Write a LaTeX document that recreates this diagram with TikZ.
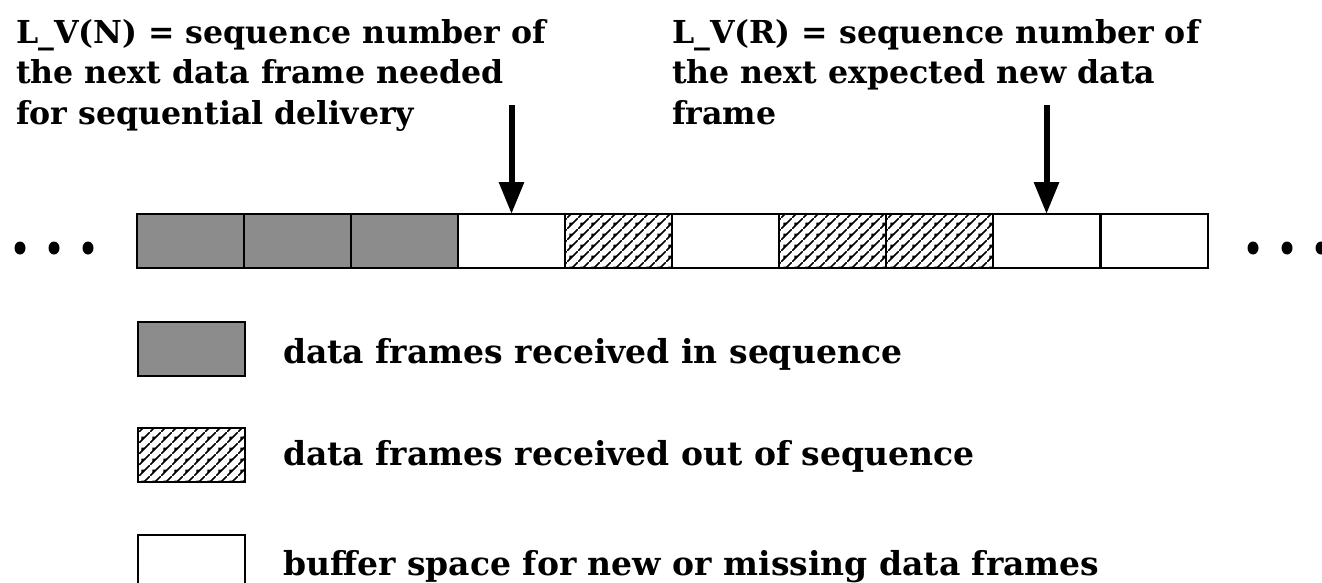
\documentclass[tikz,border=0pt]{standalone}
\usepackage{fontspec}
\setmainfont{DejaVu Serif}
\usetikzlibrary{arrows.meta,patterns,shapes.geometric}

% diagonal hatching with small wedges along each stroke
\pgfdeclarepatternformonly{hatchwedge}{\pgfqpoint{0pt}{0pt}}{\pgfqpoint{10.7pt}{10.7pt}}{\pgfqpoint{10.7pt}{10.7pt}}{%
  \pgfsetlinewidth{1.6pt}
  \pgfpathmoveto{\pgfqpoint{-1pt}{-1pt}}
  \pgfpathlineto{\pgfqpoint{11.7pt}{11.7pt}}
  \pgfusepath{stroke}
  \pgfpathmoveto{\pgfqpoint{2.5pt}{2.5pt}}
  \pgfpathlineto{\pgfqpoint{6.5pt}{6.5pt}}
  \pgfpathlineto{\pgfqpoint{2.5pt}{6.5pt}}
  \pgfpathclose
  \pgfusepath{fill}
}

\definecolor{framegray}{RGB}{140,140,140}

\tikzset{
  cell/.style={draw=black, line width=1.5pt, minimum width=107pt, minimum height=54pt,
    inner sep=0pt, outer sep=0pt},
  insequence/.style={cell, fill=framegray},
  outsequence/.style={cell, pattern=hatchwedge},
  free/.style={cell, fill=white},
  ptr/.style={line width=6pt, -{Triangle[width=24pt,length=32pt]}},
  dot/.style={fill=black, draw=none, ellipse, minimum width=11pt, minimum height=13pt, inner sep=0pt},
  lbl/.style={font=\fontsize{31.6}{40.5}\selectfont\bfseries, align=left, inner sep=0pt},
  keytext/.style={font=\fontsize{33}{40}\selectfont\bfseries, inner sep=0pt, anchor=base west},
}

\begin{document}
\begin{tikzpicture}[x=1pt, y=-1pt]
  \useasboundingbox (0,0) rectangle (1322,583);
  \clip (0,0) rectangle (1322,583);

  % pointer labels
  \node[lbl, anchor=north west] (lvn) at (16,19)
    {L\_V(N) = sequence number of\\the next data frame needed\\for sequential delivery};
  \node[lbl, anchor=north west] (lvr) at (672,19)
    {L\_V(R) = sequence number of\\the next expected new data\\frame};

  % receive buffer
  \node[insequence]  (c1)  at (190.5,241) {};
  \node[insequence]  (c2)  at (297.5,241) {};
  \node[insequence]  (c3)  at (404.5,241) {};
  \node[free]        (c4)  at (511.5,241) {};
  \node[outsequence] (c5)  at (618.5,241) {};
  \node[free]        (c6)  at (725.5,241) {};
  \node[outsequence] (c7)  at (832.5,241) {};
  \node[outsequence] (c8)  at (939.5,241) {};
  \node[free]        (c9)  at (1046.5,241) {};
  \node[free]        (c10) at (1154.5,241) {};
  \draw[line width=2pt] (c1.north west) rectangle (c10.south east);

  % continuation dots
  \node[dot] (l1) at (20,248) {};
  \node[dot] (l2) at (54,248) {};
  \node[dot] (l3) at (88,248) {};
  \node[dot] (r1) at (1253,248) {};
  \node[dot] (r2) at (1287,248) {};
  \node[dot] (r3) at (1321,248) {};

  % pointers
  \coordinate (pn) at (511.5,105);
  \coordinate (pr) at (1046.5,105);
  \draw[ptr] (pn) -- (c4.north);
  \draw[ptr] (pr) -- (c9.north);

  % legend
  \node[insequence, line width=2pt]  (k1) at (191,348.5) {};
  \node[outsequence, line width=2pt] (k2) at (191,455) {};
  \node[free, line width=2pt]        (k3) at (191,562) {};
  \node[keytext] (t1) at (283,363) {data frames received in sequence};
  \node[keytext] (t2) at (283,465) {data frames received out of sequence};
  \node[keytext] (t3) at (283,575) {buffer space for new or missing data frames};
\end{tikzpicture}
\end{document}
